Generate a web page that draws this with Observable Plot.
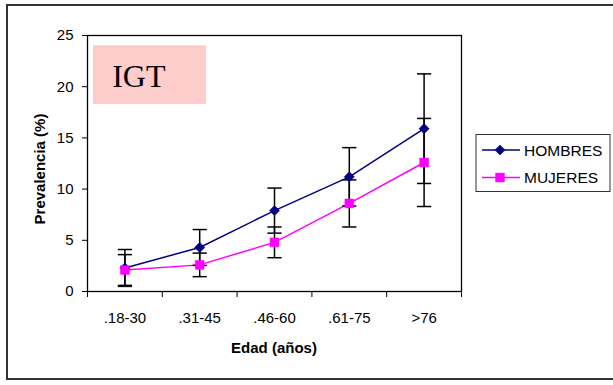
<!DOCTYPE html>
<html>
<head>
<meta charset="utf-8">
<script src="https://cdn.jsdelivr.net/npm/d3@7"></script>
<script src="https://cdn.jsdelivr.net/npm/@observablehq/plot@0.6"></script>
<style>
  html, body { margin: 0; padding: 0; background: #fff; }
  #chart { width: 613px; height: 385px; overflow: hidden; }
  svg { display: block; }
</style>
</head>
<body>
<div id="chart"></div>
<script>
const categories = [".18-30", ".31-45", ".46-60", ".61-75", ">76"];
const hombres = [2.3, 4.3, 7.9, 11.2, 15.9];
const hombresErr = [1.8, 1.75, 2.2, 2.85, 5.35];
const mujeres = [2.1, 2.6, 4.8, 8.6, 12.6];
const mujeresErr = [1.5, 1.15, 1.5, 2.3, 4.3];
const yTicks = [0, 5, 10, 15, 20, 25];
const seriesNames = ["HOMBRES", "MUJERES"];
const seriesColors = ["#000080", "#ff00ff"];
const seriesSymbols = ["diamond2", "square"];

const rows = [];
categories.forEach((c, i) => {
  rows.push({i, cat: c, serie: seriesNames[0], v: hombres[i], e: hombresErr[i]});
  rows.push({i, cat: c, serie: seriesNames[1], v: mujeres[i], e: mujeresErr[i]});
});
const idx = categories.map((_, i) => i);
const bounds = categories.map((_, i) => i - 0.5).concat([categories.length - 0.5]);
const capHalf = 0.095;

const plot = Plot.plot({
  width: 613,
  height: 385,
  marginLeft: 87,
  marginRight: 152,
  marginTop: 35,
  marginBottom: 94,
  style: {fontFamily: "Liberation Sans, Arial, sans-serif", fontSize: "15px", color: "#000", background: "#fff"},
  x: {type: "linear", domain: [-0.5, categories.length - 0.5]},
  y: {domain: [0, 25]},
  color: {domain: seriesNames, range: seriesColors},
  marks: [
    Plot.rect([0], {x1: -0.42, x2: 1.09, y1: 18.25, y2: 24.0, fill: "#ffcccc"}),
    Plot.text(["IGT"], {x: -0.17, y: 21.0, text: d => d, textAnchor: "start", fontFamily: "Liberation Serif, Times New Roman, serif", fontSize: 32, fill: "#000"}),
    Plot.frame({stroke: "#000", strokeWidth: 1.3}),
    Plot.axisY({ticks: yTicks, tickSize: 5, tickPadding: 9, label: null, stroke: "#000", fontSize: 15}),
    Plot.axisX({ticks: bounds, tickSize: 6, tickFormat: () => "", label: null, stroke: "#000"}),
    Plot.axisX({ticks: idx, tickSize: 0, tickPadding: 21, tickFormat: i => categories[i], label: null, fontSize: 15}),
    Plot.line(rows, {x: "i", y: "v", z: "serie", stroke: "serie", strokeWidth: 1.5}),
    Plot.ruleX(rows, {x: "i", y1: d => d.v - d.e, y2: d => d.v + d.e, stroke: "#000", strokeWidth: 1.5}),
    Plot.link(rows, {x1: d => d.i - capHalf, x2: d => d.i + capHalf, y1: d => d.v + d.e, y2: d => d.v + d.e, stroke: "#000", strokeWidth: 1.5}),
    Plot.link(rows, {x1: d => d.i - capHalf, x2: d => d.i + capHalf, y1: d => d.v - d.e, y2: d => d.v - d.e, stroke: "#000", strokeWidth: 1.5}),
    Plot.dot(rows.filter(d => d.serie === seriesNames[0]), {x: "i", y: "v", symbol: () => seriesSymbols[0], r: 4.6, fill: seriesColors[0], stroke: seriesColors[0], strokeWidth: 0.5}),
    Plot.dot(rows.filter(d => d.serie === seriesNames[1]), {x: "i", y: "v", symbol: () => seriesSymbols[1], r: 5, fill: seriesColors[1], stroke: seriesColors[1], strokeWidth: 0.5})
  ]
});

const svg = d3.select(plot);
// outer border
svg.insert("rect", ":first-child")
  .attr("x", 7).attr("y", 5).attr("width", 630).attr("height", 374)
  .attr("fill", "#fff").attr("stroke", "#333").attr("stroke-width", 2);

// axis titles
svg.append("text")
  .attr("x", 274).attr("y", 353)
  .attr("text-anchor", "middle")
  .attr("font-family", "Liberation Sans, Arial, sans-serif")
  .attr("font-size", 15).attr("font-weight", "bold")
  .text("Edad (años)");
svg.append("text")
  .attr("transform", "translate(45,169) rotate(-90)")
  .attr("text-anchor", "middle")
  .attr("font-family", "Liberation Sans, Arial, sans-serif")
  .attr("font-size", 15).attr("font-weight", "bold")
  .text("Prevalencia (%)");

// legend
const lg = svg.append("g").attr("font-family", "Liberation Sans, Arial, sans-serif").attr("font-size", 15.5).attr("text-anchor", "start");
lg.append("rect").attr("x", 476).attr("y", 134.5).attr("width", 134).attr("height", 57)
  .attr("fill", "#fff").attr("stroke", "#333").attr("stroke-width", 1);
seriesNames.forEach((name, k) => {
  const yy = 150 + k * 27.5;
  lg.append("line").attr("x1", 482).attr("x2", 520).attr("y1", yy).attr("y2", yy)
    .attr("stroke", seriesColors[k]).attr("stroke-width", 1.5);
  const sym = d3.symbol(k === 0 ? d3.symbolDiamond2 : d3.symbolSquare, k === 0 ? Math.PI * 4.6 * 4.6 : Math.PI * 25)();
  lg.append("path").attr("d", sym).attr("transform", `translate(500,${yy})`)
    .attr("fill", seriesColors[k]).attr("stroke", seriesColors[k]).attr("stroke-width", 0.5);
  lg.append("text").attr("x", 524).attr("y", yy).attr("dy", "0.36em").attr("text-anchor", "start").text(name);
});

document.getElementById("chart").appendChild(plot);
</script>
</body>
</html>
